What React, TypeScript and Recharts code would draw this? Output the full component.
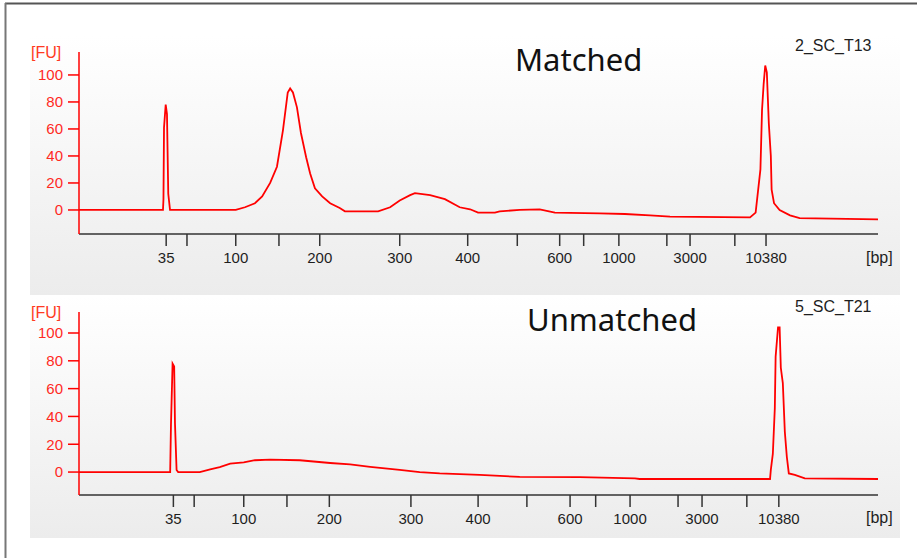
import React from 'react';
import { LineChart, Line, XAxis, YAxis } from 'recharts';

// migration position (arbitrary time units) and fluorescence readings
const matchedTime = [20, 30.5, 30.56, 30.63, 30.84, 31.0, 31.16, 31.38, 39.6, 40.75, 42.0, 42.9, 43.9, 44.75, 45.5, 46.1, 46.4, 46.75, 47.25, 47.75, 48.4, 48.9, 49.5, 50.4, 51.4, 52.6, 53.25, 57.4, 58.9, 60.1, 61.4, 62.0, 63.9, 65.75, 67.6, 68.9, 69.9, 72.0, 72.6, 75.1, 77.6, 79.5, 85.1, 88.25, 91.4, 93.9, 103.9, 104.6, 105.2, 105.4, 105.6, 105.8, 106.0, 106.25, 106.5, 106.6, 106.9, 107.6, 108.9, 110.1, 119.9];
const matchedFU = [0, 0, 8, 61, 78, 71, 12, 0, 0, 2, 5, 10, 20, 32, 59, 87, 90, 87, 76, 57, 39, 27, 16, 10, 5, 1.5, -1, -1, 2, 7, 11, 12.5, 11, 8, 2, 0.5, -2, -2, -1, 0, 0.5, -2, -2.5, -3, -4, -5, -5.5, -2, 30, 74, 93, 107, 102, 64, 40, 15, 5, 0, -4, -6, -7];

const unmatchedTime = [20, 31.4, 31.5, 31.7, 31.9, 32.0, 32.2, 32.4, 35.1, 36.4, 37.6, 38.9, 40.6, 42.0, 43.9, 47.6, 51.4, 53.9, 56.4, 60.1, 62.6, 65.1, 67.6, 70.1, 75.1, 82.6, 89.5, 90.1, 106.4, 106.5, 106.75, 107.0, 107.1, 107.4, 107.6, 107.75, 108.0, 108.25, 108.5, 108.75, 109.5, 110.75, 119.9];
const unmatchedFU = [0, 0, 34, 78, 76, 35, 1.5, 0, 0, 2, 3.5, 6, 7, 8.5, 9, 8.5, 6.5, 5.5, 3.7, 1.5, 0, -1, -1.5, -2, -3.5, -3.7, -4.5, -5, -5, 1.5, 13, 46, 83, 104, 104, 75, 64, 29, 11, -1, -2, -4.5, -5];

// ladder size labels and where they sit on each run's time axis
const bpLabels = ['35', '', '100', '', '200', '300', '400', '', '600', '', '1000', '', '3000', '', '10380'];
const matchedTickPos = [30.9, 33.5, 39.6, 45.0, 50.1, 60.1, 68.6, 74.8, 80.1, 83.1, 87.5, 93.5, 96.4, 102.0, 105.9];
const unmatchedTickPos = [31.8, 34.4, 40.6, 46.0, 51.3, 61.5, 69.9, 76.0, 81.4, 84.6, 88.9, 94.9, 97.9, 103.5, 107.5];
const fuTicks = [0, 20, 40, 60, 80, 100];

const toRows = (t: number[], fu: number[]) => t.map((x, i) => ({ t: x, fu: fu[i] }));

const tickFont = { fontFamily: '"Liberation Sans", Arial, sans-serif', fontSize: 15 };

interface PanelProps {
  data: { t: number; fu: number }[];
  tickPos: number[];
  yDomain: [number, number];
  top: number;
  height: number;
  bottomMargin: number;
}

const Panel: React.FC<PanelProps> = ({ data, tickPos, yDomain, top, height, bottomMargin }) => (
  <div
    style={{
      position: 'absolute',
      left: 30,
      top,
      width: 870,
      height,
      background: 'linear-gradient(#ffffff, #ececec)',
    }}
  >
    <LineChart width={870} height={height} data={data} margin={{ top: 16, right: 22, bottom: bottomMargin, left: 0 }}>
      <XAxis
        dataKey="t"
        type="number"
        domain={[20, 119.9]}
        ticks={tickPos}
        interval={0}
        tickFormatter={(v: number) => bpLabels[tickPos.indexOf(v)] ?? ''}
        height={30}
        tickSize={12}
        tickMargin={6}
        stroke="#333"
        axisLine={{ stroke: '#333', strokeWidth: 1.5 }}
        tickLine={{ stroke: '#333', strokeWidth: 1.5 }}
        tick={{ ...tickFont, fill: '#1e1e1e' }}
        allowDataOverflow
      />
      <YAxis
        type="number"
        domain={yDomain}
        ticks={fuTicks}
        interval={0}
        width={49}
        tickSize={11}
        tickMargin={5}
        axisLine={{ stroke: '#ff0000', strokeWidth: 1.5 }}
        tickLine={{ stroke: '#ff0000', strokeWidth: 1.5 }}
        tick={{ ...tickFont, fill: '#ff2a1f' }}
        allowDataOverflow
      />
      <Line
        type="linear"
        dataKey="fu"
        stroke="#ff0000"
        strokeWidth={1.8}
        dot={false}
        activeDot={false}
        isAnimationActive={false}
      />
    </LineChart>
  </div>
);

export default function App() {
  const title = { fontFamily: '"Noto Sans", "Open Sans", sans-serif', fontSize: 31, fill: '#111' };
  const small = { ...tickFont, fontSize: 16, fill: '#1e1e1e' };
  const fu = { ...tickFont, fontSize: 16, fill: '#ff3a22' };
  return (
    <div style={{ position: 'absolute', left: 0, top: 0, width: 917, height: 558, background: '#fff', overflow: 'hidden' }}>
      <Panel data={toRows(matchedTime, matchedFU)} tickPos={matchedTickPos} yDomain={[-17.8, 117]} top={36} height={259} bottomMargin={31} />
      <Panel data={toRows(unmatchedTime, unmatchedFU)} tickPos={unmatchedTickPos} yDomain={[-16.5, 115.1]} top={296} height={242} bottomMargin={13} />
      <svg width={917} height={558} style={{ position: 'absolute', left: 0, top: 0, pointerEvents: 'none' }}>
        <line x1={5} y1={3.5} x2={917} y2={3.5} stroke="#555" strokeWidth={2} />
        <line x1={5.5} y1={3} x2={5.5} y2={558} stroke="#777" strokeWidth={2} />
        <text x={515} y={71} style={title}>Matched</text>
        <text x={527} y={331} style={title}>Unmatched</text>
        <text x={795} y={51} style={small}>2_SC_T13</text>
        <text x={795} y={312} style={small}>5_SC_T21</text>
        <text x={31} y={58} style={fu}>[FU]</text>
        <text x={31} y={318} style={fu}>[FU]</text>
        <text x={866} y={263} style={small}>[bp]</text>
        <text x={866} y={523} style={small}>[bp]</text>
      </svg>
    </div>
  );
}
